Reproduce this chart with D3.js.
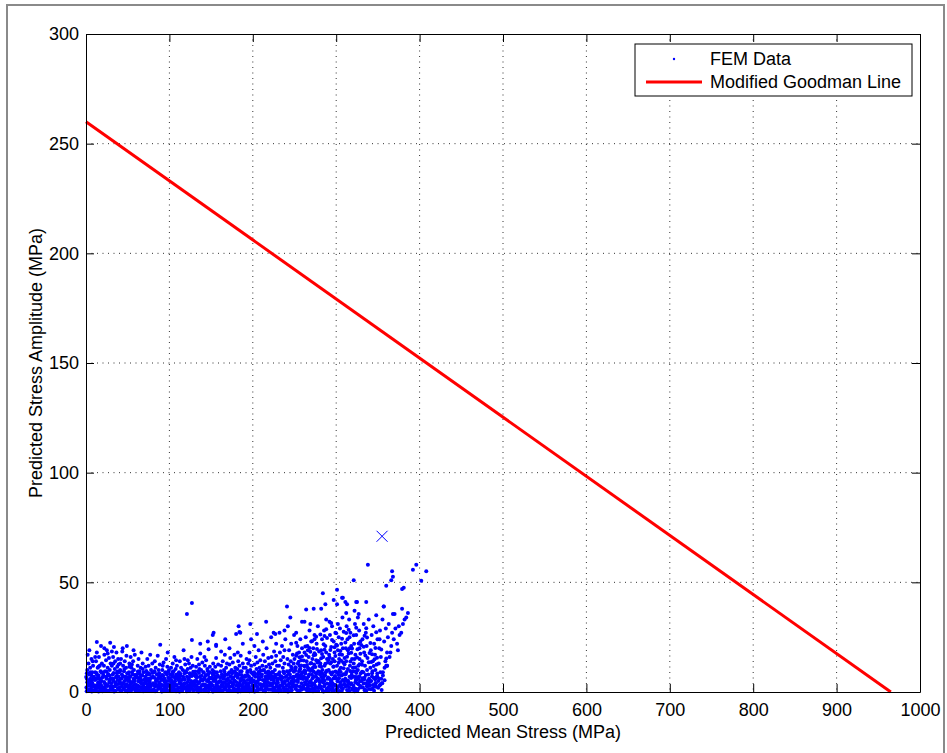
<!DOCTYPE html>
<html>
<head>
<meta charset="utf-8">
<script src="https://cdn.jsdelivr.net/npm/d3@7"></script>
<style>
  body { margin: 0; background: #fff; }
  text { font-family: "Liberation Sans", Arial, Helvetica, sans-serif; fill: #000; }
</style>
</head>
<body>
<div id="chart"></div>
<script>
// axis ticks
const xTicks = [0, 100, 200, 300, 400, 500, 600, 700, 800, 900, 1000];
const yTicks = [0, 50, 100, 150, 200, 250, 300];

// Modified Goodman line end points (mean stress, amplitude)
const goodmanX = [0, 965];
const goodmanY = [260, 0];

// highlighted point (x marker)
const markX = [355];
const markY = [71];

// FEM data, flat lists of (mean, amplitude) pairs
const femBand1 = [
  0.5,2, 1,6, 1.5,10, 2,1, 2.5,4, 3,13, 3.5,8, 4,0.5, 4.5,3, 5,11, 5.5,6, 6,1.5, 6.5,15, 7,5, 7.5,9, 8,2.5, 8.5,12, 9,0.5, 9.5,7, 2,17, 6,3.5, 8,14, 4,19, 1,8.5,
  10.5,3, 11,9, 11.5,1, 12,14, 12.5,6, 13,18, 13.5,2, 14,11, 14.5,4.5, 15,7.5, 15.5,16, 16,0.5, 16.5,12, 17,3.5, 17.5,9.5, 18,21, 18.5,5, 19,13, 19.5,1.5, 13,8, 16,6, 18,2, 11,16, 15,11.5,
  20.5,7, 21,2, 21.5,12, 22,17, 22.5,4, 23,9.5, 23.5,1, 24,14.5, 24.5,6, 25,19, 25.5,3, 26,11, 26.5,8, 27,0.5, 27.5,15.5, 28,5, 28.5,10, 29,2.5, 29.5,13, 22,20, 26,17.5, 28,7.5, 24,3.5, 21,9,
  30.5,4, 31,12, 31.5,1.5, 32,8, 32.5,16, 33,6, 33.5,20.5, 34,2.5, 34.5,10.5, 35,14, 35.5,0.5, 36,7, 36.5,18, 37,3.5, 37.5,11.5, 38,5.5, 38.5,15, 39,1, 39.5,9, 33,13, 37,8.5, 35,4.5, 31,18.5, 39,12.5,
  40.5,2, 41,10, 41.5,6, 42,15, 42.5,0.5, 43,8, 43.5,18.5, 44,4, 44.5,12, 45,1.5, 45.5,9.5, 46,5, 46.5,14, 47,2.5, 47.5,7, 48,11, 48.5,16.5, 49,3.5, 49.5,6.5, 42,4, 46,10.5, 48,0.5, 44,20, 41,13,
  50.5,5, 51,1, 51.5,9, 52,13, 52.5,3, 53,7, 53.5,16, 54,0.5, 54.5,11, 55,4.5, 55.5,8, 56,2, 56.5,14, 57,6, 57.5,10, 58,1.5, 58.5,17, 59,3.5, 59.5,7.5, 52,11.5, 55,12.5, 58,5, 53,2, 57,19,
  60.5,3, 61,8, 61.5,1, 62,12, 62.5,5, 63,15, 63.5,2.5, 64,9.5, 64.5,0.5, 65,6.5, 65.5,11, 66,4, 66.5,18, 67,1.5, 67.5,7.5, 68,13, 68.5,3, 69,9, 69.5,5.5, 62,6.5, 66,2, 68,10.5,
  70.5,2, 71,7, 71.5,11.5, 72,4, 72.5,0.5, 73,9, 73.5,15, 74,3, 74.5,6, 75,12, 75.5,1.5, 76,8, 76.5,5, 77,17, 77.5,2.5, 78,10, 78.5,6.5, 79,0.5, 79.5,13, 73,5.5, 77,3.5, 75,8.5,
  80.5,4, 81,9, 81.5,1, 82,6.5, 82.5,14, 83,2.5, 83.5,11, 84,5, 84.5,0.5, 85,8, 85.5,3, 86,16.5, 86.5,6, 87,10, 87.5,1.5, 88,4.5, 88.5,12.5, 89,7, 89.5,2, 82,9.5, 86,3, 88,8.5,
  90.5,5.5, 91,1, 91.5,10, 92,3, 92.5,7.5, 93,13.5, 93.5,0.5, 94,6, 94.5,2.5, 95,9, 95.5,4, 96,15, 96.5,1.5, 97,8, 97.5,11.5, 98,3.5, 98.5,6.5, 99,0.5, 99.5,10, 92,12, 96,5, 98,18
];
const femBand2 = [
  100.5,3, 101,8, 101.5,1.5, 102,11, 102.5,5, 103,0.5, 103.5,7, 104,13, 104.5,2.5, 105,9.5, 105.5,4.5, 106,16, 106.5,1, 107,6, 107.5,10.5, 108,3, 108.5,8, 109,12, 109.5,0.5, 102,5.5, 106,3.5, 108,14.5,
  110.5,6, 111,2, 111.5,9, 112,4, 112.5,14, 113,0.5, 113.5,7.5, 114,11, 114.5,3, 115,5.5, 115.5,1, 116,10, 116.5,7, 117,19, 117.5,2.5, 118,8.5, 118.5,4, 119,12.5, 119.5,1.5, 112,6.5, 116,3.5, 118,15,
  120.5,2, 121,7, 121.5,4.5, 122,10.5, 122.5,0.5, 123,6, 123.5,13, 124,3, 124.5,8.5, 125,1.5, 125.5,11, 126,5, 126.5,16, 127,2.5, 127.5,7.5, 128,12, 128.5,0.5, 129,9, 129.5,4, 122,14.5, 126,8, 128,3.5,
  130.5,5, 131,1, 131.5,8, 132,11.5, 132.5,3, 133,6.5, 133.5,15, 134,0.5, 134.5,9.5, 135,4, 135.5,12.5, 136,2, 136.5,7, 137,17.5, 137.5,1.5, 138,10, 138.5,5.5, 139,3, 139.5,13.5, 132,7.5, 136,10.5, 138,0.5,
  140.5,3.5, 141,9, 141.5,1, 142,6, 142.5,12, 143,2.5, 143.5,7.5, 144,14.5, 144.5,0.5, 145,5, 145.5,10.5, 146,3, 146.5,8, 147,19.5, 147.5,1.5, 148,6.5, 148.5,11.5, 149,4, 149.5,2, 142,16, 146,5.5, 148,9,
  150.5,1, 151,6.5, 151.5,10, 152,3, 152.5,13, 153,5, 153.5,0.5, 154,8.5, 154.5,2, 155,11.5, 155.5,6, 156,15.5, 156.5,3.5, 157,9, 157.5,1.5, 158,7, 158.5,12.5, 159,4.5, 159.5,0.5, 152,8, 156,21, 158,2.5,
  160.5,5, 161,2, 161.5,9.5, 162,12, 162.5,0.5, 163,7, 163.5,3.5, 164,14, 164.5,6, 165,1, 165.5,10, 166,4.5, 166.5,17, 167,8, 167.5,2, 168,11, 168.5,5.5, 169,13, 169.5,0.5, 162,18.5, 166,7.5, 168,3,
  170.5,3, 171,8.5, 171.5,1, 172,12.5, 172.5,5, 173,15.5, 173.5,2.5, 174,7, 174.5,10, 175,0.5, 175.5,6, 176,13.5, 176.5,3.5, 177,9, 177.5,1.5, 178,17, 178.5,5, 179,11, 179.5,7.5, 172,20, 176,4, 178,0.5,
  180.5,4.5, 181,1, 181.5,10.5, 182,6.5, 182.5,14, 183,2.5, 183.5,8, 184,12, 184.5,0.5, 185,5.5, 185.5,16.5, 186,3, 186.5,9.5, 187,1.5, 187.5,7, 188,13, 188.5,4, 189,11, 189.5,2, 182,18, 186,6, 188,22,
  190.5,2, 191,7.5, 191.5,11, 192,4, 192.5,15, 193,0.5, 193.5,9, 194,5.5, 194.5,13, 195,2.5, 195.5,7, 196,18, 196.5,1, 197,10, 197.5,4.5, 198,12, 198.5,6, 199,0.5, 199.5,8.5, 192,3, 196,14.5, 198,24
];
const femBand3 = [
  200.5,5, 201,1.5, 201.5,9, 202,12.5, 202.5,3, 203,7, 203.5,16, 204,0.5, 204.5,10.5, 205,4.5, 205.5,13.5, 206,2, 206.5,8, 207,19, 207.5,6, 208,11, 208.5,1, 209,14.5, 209.5,3.5, 202,21, 206,5, 208,8.5,
  210.5,2.5, 211,8, 211.5,12, 212,5.5, 212.5,17, 213,0.5, 213.5,10, 214,4, 214.5,14, 215,7, 215.5,1.5, 216,11.5, 216.5,20, 217,3, 217.5,9, 218,6, 218.5,15.5, 219,1, 219.5,12.5, 212,23, 216,4.5, 218,7.5,
  220.5,4, 221,11, 221.5,1, 222,7.5, 222.5,16, 223,3, 223.5,13, 224,9, 224.5,0.5, 225,5.5, 225.5,18.5, 226,2, 226.5,10, 227,14, 227.5,6.5, 228,22, 228.5,3.5, 229,12, 229.5,8, 222,25, 226,1.5, 228,16.5,
  230.5,6, 231,1.5, 231.5,12, 232,9, 232.5,18, 233,3, 233.5,14.5, 234,0.5, 234.5,7, 235,21, 235.5,4.5, 236,11, 236.5,16, 237,2, 237.5,8.5, 238,13, 238.5,5, 239,24, 239.5,1, 232,27, 236,6.5, 238,19,
  240.5,3, 241,9.5, 241.5,15, 242,1, 242.5,6, 243,12.5, 243.5,19, 244,4, 244.5,8, 245,0.5, 245.5,14, 246,22, 246.5,5, 247,10.5, 247.5,2.5, 248,17, 248.5,7, 249,13, 249.5,26, 242,30, 246,11.5, 248,3.5,
  250.5,5, 251,1.5, 251.5,11, 252,16.5, 252.5,3, 253,8, 253.5,21, 254,13, 254.5,0.5, 255,6.5, 255.5,18, 256,10, 256.5,2.5, 257,24, 257.5,7.5, 258,14.5, 258.5,4, 259,20, 259.5,9, 252,27, 256,12, 258,1, 254,5.5, 250,15,
  260.5,2, 261,7, 261.5,12, 262,18, 262.5,4.5, 263,9.5, 263.5,25, 264,1, 264.5,14, 265,6, 265.5,21, 266,11, 266.5,3, 267,16, 267.5,8, 268,28, 268.5,0.5, 269,13, 269.5,5, 262,32, 266,19, 268,10.5, 264,3.5, 270,23,
  270.5,4, 271,10, 271.5,15, 272,1.5, 272.5,20, 273,7, 273.5,12.5, 274,26, 274.5,3, 275,17, 275.5,8.5, 276,0.5, 276.5,22, 277,5.5, 277.5,13.5, 278,30, 278.5,9.5, 279,2, 279.5,18.5, 272,11, 276,14.5, 278,6, 274,24, 280,3,
  280.5,8, 281,13, 281.5,2.5, 282,19, 282.5,5, 283,24, 283.5,10, 284,0.5, 284.5,16, 285,7, 285.5,28, 286,12, 286.5,3.5, 287,21, 287.5,9, 288,33, 288.5,1.5, 289,15, 289.5,6, 282,11.5, 286,25.5, 288,18, 284,4.5, 290,13.5,
  290.5,2, 291,10, 291.5,17, 292,6, 292.5,26, 293,13, 293.5,1, 294,20.5, 294.5,8, 295,30, 295.5,4, 296,15, 296.5,11.5, 297,23, 297.5,0.5, 298,18, 298.5,7, 299,27, 299.5,3, 292,32, 296,9, 298,14, 294,5, 300,21.5
];
const femBand4 = [
  300.5,6, 301,12, 301.5,2, 302,19, 302.5,9, 303,25, 303.5,15, 304,0.5, 304.5,29, 305,4.5, 305.5,11, 306,22, 306.5,7.5, 307,17, 307.5,34, 308,1.5, 308.5,13.5, 309,27.5, 309.5,5, 302,31, 306,3, 308,20, 304,10, 310,15.5,
  310.5,8, 311,2.5, 311.5,20, 312,14, 312.5,30, 313,5, 313.5,24, 314,10.5, 314.5,0.5, 315,17.5, 315.5,33, 316,7, 316.5,12, 317,27, 317.5,3.5, 318,21, 318.5,9, 319,15, 319.5,1, 312,36, 316,25, 318,4, 314,19, 320,11,
  320.5,3, 321,13, 321.5,22, 322,7, 322.5,31, 323,17, 323.5,1.5, 324,26, 324.5,9.5, 325,4, 325.5,19.5, 326,34, 326.5,12, 327,6, 327.5,28, 328,15, 328.5,2, 329,23, 329.5,8.5, 322,37, 326,10, 328,20, 324,5.5,
  330.5,5, 331,14, 331.5,24, 332,2, 332.5,9, 333,31, 333.5,18, 334,6.5, 334.5,12, 335,1, 335.5,27, 336,4, 336.5,21, 337,10, 337.5,15.5, 338,3, 338.5,8, 339,33, 339.5,6,
  340.5,3, 341,11, 341.5,19, 342,5, 342.5,26, 343,8.5, 343.5,1.5, 344,14, 344.5,30, 345,6.5, 345.5,22, 346,2.5, 346.5,17, 347,10, 347.5,4, 348,35, 348.5,12.5, 349,7, 349.5,24,
  350.5,5, 351,13, 351.5,20, 352,3, 352.5,28, 353,9, 353.5,16, 354,6, 355,4, 355.5,33, 356,9, 357,39, 357.5,23, 358,11, 359,14, 359.5,29, 349,7, 361,12,
  360,12, 361,18, 362,25, 363,31, 364,16, 365,18, 366,21, 367,27, 368,35.6, 369,24, 370,35.6,
  371,29, 373,22, 375,30, 376,26, 378,27, 380,31, 382,33, 384,34, 386,36, 374,19, 379,38
];
// the packed bottom layer (amplitude below ~10 MPa)
const femBase = [
  0.8,0.3, 2.2,2.8, 3.8,5.2, 5.1,1.2, 6.4,7.6, 7.7,3.9, 9.2,0.8, 1.5,4.5, 4.3,8.3, 8.4,6, 0.2,6.8, 3,0.5, 6,4.8, 9.8,2.5, 5,9, 7,0.2,
  10.8,5.5, 12.1,0.8, 13.4,3.2, 14.6,7, 15.8,1.9, 17.2,4.8, 18.6,8.8, 19.8,0.3, 11.5,2.1, 13,6.2, 16.2,3.6, 17.8,0.9, 19.2,6.5, 12.6,8.7, 15.1,0.2, 18.2,3,
  20.3,1.4, 21.7,4.6, 22.9,0.4, 24.2,6.9, 25.4,2.7, 26.8,8.1, 27.9,4.2, 29.3,1.1, 20.9,7.5, 23.6,3.3, 26.1,0.7, 28.6,5.9, 24.8,9.2, 22.3,2.2,
  30.6,6.3, 31.8,2.4, 33.1,8.7, 34.3,0.6, 35.6,4.1, 36.9,6.6, 38.1,1.8, 39.4,3.7, 30.2,0.9, 32.5,5.2, 35,2.9, 37.5,9.3, 38.8,7.1, 33.7,0.2,
  40.4,4.7, 41.7,0.4, 43,2.6, 44.2,7.3, 45.5,3.8, 46.8,0.9, 48,5.6, 49.3,8.5, 40.9,9.6, 42.4,6.1, 44.9,1.3, 47.4,3.1, 49.7,0.3, 46.1,6.8,
  50.2,2.3, 51.5,6.4, 52.8,0.8, 54,4.3, 55.3,9.1, 56.6,2.8, 57.9,5.7, 59.1,0.5, 50.8,8.2, 53.3,3.6, 55.9,1.4, 58.4,7.7, 52.1,5.1, 56.9,4.6,
  60.3,6.8, 61.6,3.1, 62.9,0.6, 64.1,8.3, 65.4,2.2, 66.7,5.4, 67.9,1, 69.2,3.9, 60.9,1.7, 63.5,4.9, 66,7.6, 68.6,0.3, 62.2,9.4, 64.8,6.1,
  70.4,1.2, 71.7,4.4, 73,7.9, 74.2,2.3, 75.5,0.4, 76.8,6.2, 78,3.4, 79.3,8.8, 70.9,5.8, 73.6,1.5, 76.1,3.9, 78.7,0.9, 72.3,9.6, 74.9,5.2,
  80.2,7.2, 81.5,2.9, 82.8,0.3, 84,5.3, 85.3,8.1, 86.6,1.6, 87.9,4.1, 89.1,6.7, 80.8,0.8, 83.3,3.7, 85.9,5.9, 88.4,2.4, 82.1,9.2, 86.9,7.6,
  90.3,3.3, 91.6,7.8, 92.9,1.1, 94.1,4.6, 95.4,0.5, 96.7,8.6, 97.9,2.7, 99.2,5.1, 90.9,0.2, 93.5,6.3, 96,3.4, 98.6,9.3, 92.2,5.6, 94.8,1.9,
  100.4,6.4, 101.7,0.7, 103,3.6, 104.2,8.2, 105.5,1.8, 106.8,4.9, 108,0.3, 109.3,7.1, 100.9,2.5, 103.6,9.1, 106.1,6.8, 108.7,3.2, 102.3,4.4, 104.9,0.9,
  110.2,1.6, 111.5,5.3, 112.8,8.4, 114,2.1, 115.3,0.4, 116.6,6.2, 117.9,3.8, 119.1,9.5, 110.8,7.6, 113.3,4.1, 115.9,1.1, 118.4,5.7, 112.1,0.2, 116.9,2.9,
  120.3,8.9, 121.6,2.8, 122.9,5.5, 124.1,0.6, 125.4,3.9, 126.7,7.3, 127.9,1.4, 129.2,4.7, 120.9,0.3, 123.5,6.6, 126,2.2, 128.6,9.2, 122.2,1.7, 124.8,8,
  130.4,2.6, 131.7,6.9, 133,0.9, 134.2,4.3, 135.5,8.7, 136.8,1.3, 138,5.8, 139.3,3.1, 130.9,9.4, 133.6,2, 136.1,4.6, 138.7,7.4, 132.3,5, 134.9,0.2,
  140.2,5.4, 141.5,0.8, 142.8,3.4, 144,7.8, 145.3,2.2, 146.6,0.3, 147.9,6.1, 149.1,4.2, 140.8,8.9, 143.3,1.5, 145.9,9.6, 148.4,2.7, 142.1,6.5, 146.9,4.8,
  150.3,3.7, 151.6,8.5, 152.9,1.2, 154.1,5.9, 155.4,0.5, 156.7,3.3, 157.9,7.5, 159.2,2.1, 150.9,6.2, 153.5,9.4, 156,4.7, 158.6,0.8, 152.2,0.2, 154.8,7.1,
  160.4,0.9, 161.7,4.9, 163,8.1, 164.2,2.6, 165.5,6.4, 166.8,1.1, 168,3.7, 169.3,7.9, 160.9,6.7, 163.6,0.4, 166.1,9.2, 168.7,5.3, 162.3,3.2, 164.9,4.2,
  170.2,6.1, 171.5,2.3, 172.8,0.4, 174,4.5, 175.3,8.6, 176.8,1.8, 177.9,5.2, 179.1,0.9, 170.8,3.8, 173.3,7.2, 175.9,3.1, 178.4,9.5, 172.1,9, 176.6,6.6,
  180.3,2.9, 181.6,6.8, 182.9,1.5, 184.1,4.1, 185.4,0.3, 186.7,7.7, 187.9,2.4, 189.2,5.5, 180.9,8.4, 183.5,3.4, 186,5.2, 188.6,0.7, 182.2,0.2, 184.8,9.3,
  190.4,4.8, 191.7,0.6, 193,3.1, 194.2,7.4, 195.5,1.9, 196.8,5.6, 198,8.9, 199.3,2.8, 190.9,6.9, 193.6,9.6, 196.1,0.3, 198.7,4.4, 192.3,1.4, 194.9,3.8,
  200.2,1.7, 201.5,5.1, 202.8,8.3, 204,2.9, 205.3,0.6, 206.6,6.7, 207.9,3.5, 209.1,9.7, 200.8,7.7, 203.3,4, 205.9,1.2, 208.4,5.8, 202.1,0.2, 206.9,9.1,
  210.3,7.1, 211.6,3.2, 212.9,0.5, 214.1,5.4, 215.4,8.8, 216.7,1.9, 217.9,4.6, 219.2,6.9, 210.9,1.3, 213.5,2.7, 216,6, 218.6,9.4, 212.2,9.9, 214.8,0.3,
  220.4,2.8, 221.7,6.2, 223,9.1, 224.2,1.6, 225.5,4.3, 226.8,7.9, 228,0.4, 229.3,5.2, 220.9,8.6, 223.6,3.9, 226.1,0.9, 228.7,2.5, 222.3,5.7, 224.9,6.8,
  230.2,4.2, 231.5,8.1, 232.8,1.1, 234,5.6, 235.3,2.9, 236.6,9.4, 237.9,0.6, 239.1,6.8, 230.8,0.3, 233.3,7.2, 235.9,3.6, 238.4,4.1, 232.1,2.4, 236.9,1.7,
  240.3,1.4, 241.6,5.3, 242.9,8.7, 244.1,2.3, 245.4,6.6, 246.7,0.8, 247.9,4.4, 249.2,9.2, 240.9,7.4, 243.5,3.6, 246,2.1, 248.6,6.2, 242.2,0.2, 244.8,9.8,
  250.3,3.1, 251.6,7.2, 252.9,0.9, 254.1,4.6, 255.4,9.3, 256.7,2.4, 257.9,6.1, 259.2,1.3, 250.9,9.8, 253.5,5.5, 256,0.4, 258.6,8.2, 252.2,2.6, 254.8,7.8,
  260.3,5.9, 261.6,1.6, 262.9,8.4, 264.1,3.6, 265.4,0.6, 266.7,7.1, 267.9,4.3, 269.2,9.6, 260.9,2.8, 263.5,6.4, 266,2.2, 268.6,1.1, 262.2,9.9, 264.8,5.1,
  270.3,2.7, 271.6,6.3, 272.9,9.4, 274.1,0.8, 275.4,4.9, 276.7,8.6, 277.9,1.9, 279.2,5.7, 270.9,7.9, 273.5,3.8, 276,6.9, 278.6,0.4, 272.2,0.3, 274.8,2.2,
  280.3,4.4, 281.6,9.1, 282.9,1.2, 284.1,6.2, 285.4,2.6, 286.7,7.6, 287.9,0.5, 289.2,3.9, 280.9,1.9, 283.5,8.3, 286,5.1, 288.6,9.7, 282.2,6.8, 284.8,0.2,
  290.3,6.6, 291.6,2.4, 292.9,8.9, 294.1,4.7, 295.4,0.7, 296.7,6.1, 297.9,3.3, 299.2,9.3, 290.9,0.4, 293.5,5.4, 296,1.8, 298.6,7.3, 292.2,3.6, 294.8,2.9,
  300.3,1.1, 301.6,4.9, 302.9,7.7, 304.1,2.8, 305.4,9.1, 306.7,0.4, 307.9,5.5, 309.2,3.4, 300.9,8.8, 303.5,6.3, 306,2.1, 308.6,8.1, 302.2,0.3, 304.8,4.5,
  310.3,3.7, 311.6,8.2, 312.9,0.9, 314.1,5.3, 315.4,2.2, 316.7,9.6, 317.9,6.4, 319.2,1.5, 310.9,6, 313.5,3.1, 316,0.5, 318.6,7.7, 312.2,9.1, 314.8,4.3,
  320.3,6.9, 321.6,1.8, 322.9,4.4, 324.1,8.7, 325.4,0.6, 326.7,3.5, 327.9,7.2, 329.2,2.7, 320.9,9.5, 323.5,5.6, 326,1.3, 328.6,4.9, 322.2,0.3, 324.8,6.8,
  330.3,2.2, 331.6,6.3, 332.9,3.9, 334.1,0.8, 335.4,7.8, 336.7,2.6, 337.9,5.1, 339.2,1.4, 331,9.2, 333.5,5.7, 336,0.5, 338.6,3.3,
  340.3,4.6, 341.6,1.3, 342.9,7.1, 344.1,3.2, 345.4,0.6, 346.7,5.8, 348,2.4, 349.2,8.4, 343.5,9.5, 347,4.1,
  350.3,1.9, 351.6,6.2, 353,3.4, 354.5,0.9, 356,7.5, 358,5.4
];
// middle layer of the right-hand cluster
const femMid = [
  251,11.3, 253,17.6, 255,13.8, 257,10.6, 259,16.2, 261,14.4, 263,20.7, 265,12.3, 267,10.2, 269,18.4,
  271,23.1, 273,16.8, 275,11.4, 277,19.6, 279,14.1, 281,26.2, 283,17.3, 285,21.8, 287,12.9, 289,24.6,
  291,14.8, 293,19.1, 295,23.7, 297,11.6, 299,16.4, 301,21.2, 303,13.3, 305,18.7, 307,24.3, 309,10.8,
  311,22.6, 313,16.1, 315,28.4, 317,13.9, 319,19.8, 321,25.9, 323,11.2, 325,15.7, 327,22.1, 329,17.4,
  331,12.4, 333,20.6, 335,16.6, 337,24.9, 339,13.6, 341,22.3, 343,17.2, 345,11.9, 347,20.1, 349,15.6,
  252,22.5, 258,12.1, 264,16.9, 270,13.2, 276,25.2, 282,15.4, 288,28.6, 294,13.6, 300,26.8, 306,14.2,
  312,26.9, 318,17.9, 324,29.3, 330,21.4, 336,29.1, 342,13.7, 348,27.2, 354,19.4, 360,15.3, 286,19.3,
  256,15.9, 262,11.7, 268,20.1, 274,17.7, 280,11.9, 292,15.9, 298,20.4, 304,17.1, 310,12.6, 316,19.9,
  322,15.1, 328,12.7, 334,25.6, 340,17.8, 346,14.9, 352,24.1
];
// isolated points above the main cloud
const femSparse = [
  127,40.6, 121,35.6, 153,27, 183,30, 197,31, 216,32, 205,26.5, 185,27, 180,26.5, 227,26.5,
  127,23.7, 137,22, 156,21.5, 167,24, 241,39, 264,37.6, 273,38, 282,38, 287,40, 313,40,
  325,41, 301,40, 327,35.6, 245,34, 259,32, 269,31, 294,31.5, 238,28, 225,27, 338,58,
  367,55, 368,52.5, 366,51, 360,48.4, 321,51, 392,55.7, 396,58, 408,55, 402,50.7, 381,47.5,
  379,47, 301,46.6, 284,45, 297,42, 307,43, 311,41, 324,41, 336,41, 357,39, 308,43,
  13,22.8, 29,22.4, 49,21, 89,21.5, 146,23, 152,26, 184,27.4, 355,4, 349,7, 361,12
];

const seriesNames = ["FEM Data", "Modified Goodman Line"];

const toPairs = arr => d3.range(0, arr.length, 2).map(i => [arr[i], arr[i + 1]]);
const femData = [femBase, femBand1, femBand2, femBand3, femBand4, femMid, femSparse].flatMap(toPairs);

const W = 947, H = 753;
const margin = { top: 34, right: 27, bottom: 61, left: 86 };
const width = W - margin.left - margin.right;
const height = H - margin.top - margin.bottom;
const fontSize = "18px";

const svg = d3.select("#chart").append("svg")
  .attr("width", W)
  .attr("height", H);

// figure frame
svg.append("rect")
  .attr("x", 7).attr("y", 5)
  .attr("width", 937).attr("height", 760)
  .attr("fill", "none").attr("stroke", "#8a8a8a").attr("stroke-width", 2);

const g = svg.append("g").attr("transform", `translate(${margin.left},${margin.top})`);

const x = d3.scaleLinear().domain([0, 1000]).range([0, width]);
const y = d3.scaleLinear().domain([0, 300]).range([height, 0]);

// dotted grid
g.append("g").selectAll("line").data(xTicks.slice(1, -1)).enter().append("line")
  .attr("x1", d => x(d)).attr("x2", d => x(d))
  .attr("y1", 0).attr("y2", height)
  .attr("stroke", "#333").attr("stroke-width", 1).attr("stroke-dasharray", "1,4.5");
g.append("g").selectAll("line").data(yTicks.slice(1, -1)).enter().append("line")
  .attr("x1", 0).attr("x2", width)
  .attr("y1", d => y(d)).attr("y2", d => y(d))
  .attr("stroke", "#333").attr("stroke-width", 1).attr("stroke-dasharray", "1,4.5");

// scatter
g.append("g").selectAll("circle").data(femData).enter().append("circle")
  .attr("cx", d => x(d[0]))
  .attr("cy", d => y(d[1]))
  .attr("r", 2)
  .attr("fill", "#0000ff");

// x marker
const mk = g.append("g").selectAll("g").data(markX.map((v, i) => [v, markY[i]])).enter().append("g")
  .attr("transform", d => `translate(${x(d[0])},${y(d[1])})`);
mk.append("path").attr("d", "M-5.5,-5.5L5.5,5.5M-5.5,5.5L5.5,-5.5")
  .attr("stroke", "#0000ff").attr("stroke-width", 1);

// Goodman line
g.append("path")
  .datum(goodmanX.map((v, i) => [v, goodmanY[i]]))
  .attr("d", d3.line().x(d => x(d[0])).y(d => y(d[1])))
  .attr("fill", "none").attr("stroke", "#ff0000").attr("stroke-width", 3);

// axes (ticks inward, box)
const tickLen = 8;
const fmt = d3.format("d");
const bottomAxis = g.append("g").attr("transform", `translate(0,${height})`)
  .call(d3.axisBottom(x).tickValues(xTicks).tickFormat(fmt).tickSizeInner(-tickLen).tickSizeOuter(0).tickPadding(11));
const topAxis = g.append("g")
  .call(d3.axisTop(x).tickValues(xTicks).tickSizeInner(-tickLen).tickSizeOuter(0).tickFormat(""));
const leftAxis = g.append("g")
  .call(d3.axisLeft(y).tickValues(yTicks).tickFormat(fmt).tickSizeInner(-tickLen).tickSizeOuter(0).tickPadding(7));
const rightAxis = g.append("g").attr("transform", `translate(${width},0)`)
  .call(d3.axisRight(y).tickValues(yTicks).tickSizeInner(-tickLen).tickSizeOuter(0).tickFormat(""));

[bottomAxis, topAxis, leftAxis, rightAxis].forEach(a => {
  a.select(".domain").attr("stroke", "#000").attr("stroke-width", 1);
  a.selectAll(".tick line").attr("stroke", "#000");
  a.selectAll("text").style("font-size", fontSize).attr("fill", "#000")
    .style("font-family", '"Liberation Sans", Arial, sans-serif');
});

// axis titles
svg.append("text")
  .attr("x", margin.left + width / 2).attr("y", 738)
  .attr("text-anchor", "middle").style("font-size", fontSize)
  .text("Predicted Mean Stress (MPa)");
svg.append("text")
  .attr("transform", `translate(42,${margin.top + height / 2}) rotate(-90)`)
  .attr("text-anchor", "middle").style("font-size", fontSize)
  .text("Predicted Stress Amplitude (MPa)");

// legend
const lg = svg.append("g").attr("transform", "translate(635,44)");
lg.append("rect").attr("width", 277).attr("height", 52)
  .attr("fill", "#fff").attr("stroke", "#000").attr("stroke-width", 1);
lg.append("circle").attr("cx", 39).attr("cy", 15).attr("r", 1.2).attr("fill", "#0000ff");
lg.append("line").attr("x1", 11).attr("x2", 67).attr("y1", 38).attr("y2", 38)
  .attr("stroke", "#ff0000").attr("stroke-width", 3);
lg.selectAll("text.lab").data(seriesNames).enter().append("text")
  .attr("class", "lab")
  .attr("x", 75).attr("y", (d, i) => 21 + i * 23)
  .style("font-size", fontSize)
  .text(d => d);
</script>
</body>
</html>
